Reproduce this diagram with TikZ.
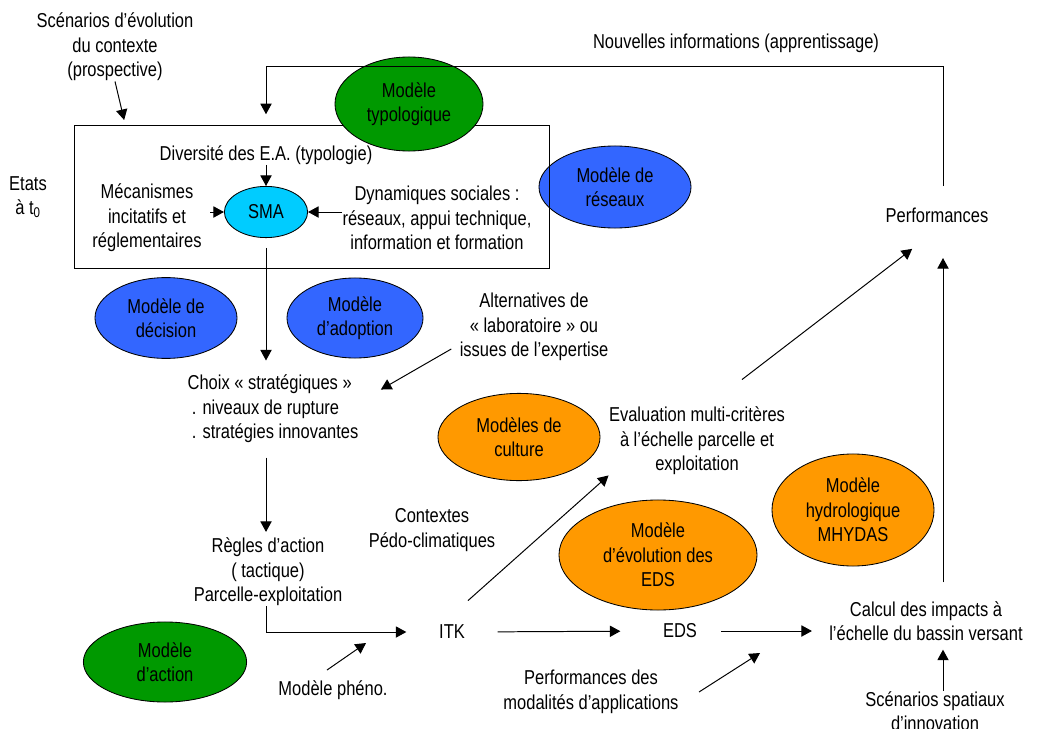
\documentclass[tikz,border=0pt]{standalone}
\usepackage{fontspec}
\setmainfont{Liberation Sans}[FakeStretch=0.82]
\usetikzlibrary{arrows.meta,shapes.geometric,calc}
\definecolor{vertmod}{HTML}{009900}
\definecolor{bleumod}{HTML}{3366FF}
\definecolor{cyanmod}{HTML}{00CCFF}
\definecolor{orangemod}{HTML}{FF9900}
\begin{document}
\begin{tikzpicture}[x=0.025cm,y=-0.025cm,line width=0.7pt,
  every node/.style = {font=\fontsize{14.3}{17.4}\selectfont,inner sep=0pt},
  txt/.style = {align=center},
  modele/.style = {ellipse,draw,line width=0.6pt,align=center},
  arr/.style = {-{Triangle[length=7.5pt,width=8pt]}}]
   \useasboundingbox (0,0) rectangle (1039,729);
   \coordinate (retour) at (943,66);
   % contexte et cadre SMA
   \node[txt] (scen) at (115,47) {Scénarios d’évolution\\du contexte\\(prospective)};
   \node[txt] (nouv) at (736,43) {Nouvelles informations (apprentissage)};
   \node[txt] (etats) at (28,197) {Etats\\à t\textsubscript{0}};
   \node[modele,fill=bleumod,minimum width=3.8cm,minimum height=2.05cm] (reseaux) at (615,187) {Modèle de\\réseaux};
   \node[draw,minimum width=11.85cm,minimum height=3.55cm] (cadre) at (312,197) {};
   \node[modele,fill=vertmod,minimum width=3.7cm,minimum height=2.35cm] (typo) at (409,104) {Modèle\\typologique};
   \node[txt] (div) at (266,155) {Diversité des E.A. (typologie)};
   \node[modele,fill=cyanmod,minimum width=2.08cm,minimum height=1.28cm] (sma) at (266,212) {SMA};
   \node[txt] (meca) at (147,218) {Mécanismes\\incitatifs et\\réglementaires};
   \node[txt] (dyn) at (437,218) {Dynamiques sociales :\\réseaux, appui technique,\\information et formation};
   % choix et regles
   \node[modele,fill=bleumod,minimum width=3.55cm,minimum height=2.02cm] (decision) at (166,318) {Modèle de\\décision};
   \node[modele,fill=bleumod,minimum width=3.4cm,minimum height=2cm] (adoption) at (355,318) {Modèle\\d’adoption};
   \node[txt] (alt) at (534,327) {Alternatives de\\« laboratoire » ou\\issues de l’expertise};
   \node[align=left] (choix) at (273,409) {Choix « stratégiques »\\\hspace{3pt}. niveaux de rupture\\\hspace{3pt}. stratégies innovantes};
   \node[txt] (regles) at (268,572) {Règles d’action\\( tactique)\\Parcelle-exploitation};
   \node[modele,fill=vertmod,minimum width=4.08cm,minimum height=2cm] (action) at (165,662) {Modèle\\d’action};
   \node[txt] (pheno) at (333,690) {Modèle phéno.};
   \node[txt] (ctx) at (432,530) {Contextes\\Pédo-climatiques};
   % chaine ITK - EDS - impacts
   \node[txt] (itk) at (452,632) {ITK};
   \node[txt] (edsn) at (680,631) {EDS};
   \node[modele,fill=orangemod,minimum width=4.05cm,minimum height=2.18cm] (culture) at (519,437) {Modèles de\\culture};
   \node[txt] (eval) at (697,441) {Evaluation multi-critères\\à l’échelle parcelle et\\exploitation};
   \node[modele,fill=orangemod,minimum width=4.95cm,minimum height=2.75cm] (evoleds) at (658,555) {Modèle\\d’évolution des\\EDS};
   \node[modele,fill=orangemod,minimum width=4.05cm,minimum height=2.8cm] (hydro) at (853,510) {Modèle\\hydrologique\\MHYDAS};
   \node[txt] (perf) at (937,215) {Performances};
   \node[txt] (calc) at (926,621) {Calcul des impacts à\\l’échelle du bassin versant};
   \node[txt] (perfmod) at (591,692) {Performances des\\modalités d’applications};
   \node[txt] (spat) at (935,711) {Scénarios spatiaux\\d’innovation};
   % connecteurs
   \draw[arr,shorten >=4pt] (scen.south) -- ($(cadre.north west)+(51,0)$);
   \draw[arr,shorten <=15pt,shorten >=8pt] (perf.north -| retour) -- (retour) -| (cadre.north -| sma);
   \draw[arr] (div.south) -- (sma.north);
   \draw[arr,shorten <=6pt] (meca.east |- sma) -- (sma.west);
   \draw[arr] (dyn.west |- sma) -- (sma.east);
   \draw[arr,shorten <=7pt,shorten >=10pt] (sma.south) -- (choix.north -| sma);
   \draw[arr] ($(alt.west)+(-8,22)$) -- ($(choix.north east)+(22,15)$);
   \draw[arr,shorten <=10pt,shorten >=4pt] (choix.south -| sma) -- (regles.north -| sma);
   \draw[arr,shorten >=23pt] (regles.south -| sma) |- (itk.west);
   \draw[arr] ($(pheno.north)+(-6,-10)$) -- ($(pheno.north)+(33,-37)$);
   \draw[arr] ($(itk.north)+(16,-24)$) -- (eval.south west);
   \draw[arr,shorten <=23pt,shorten >=30pt] (itk.east) -- (edsn.west);
   \draw[arr,shorten <=17pt,shorten >=12pt] (edsn.east) -- (calc.west |- edsn);
   \draw[arr] ($(perfmod.east)+(20,0)$) -- ($(perfmod.east)+(81,-39)$);
   \draw[arr] ($(eval.north)+(45,-27)$) -- ($(perf.south west)+(27,26)$);
   \draw[arr,shorten <=13pt,shorten >=25pt] (calc.north -| retour) -- (perf.south -| retour);
   \draw[arr,shorten >=6pt] (spat.north -| retour) -- (calc.south -| retour);
\end{tikzpicture}
\end{document}
